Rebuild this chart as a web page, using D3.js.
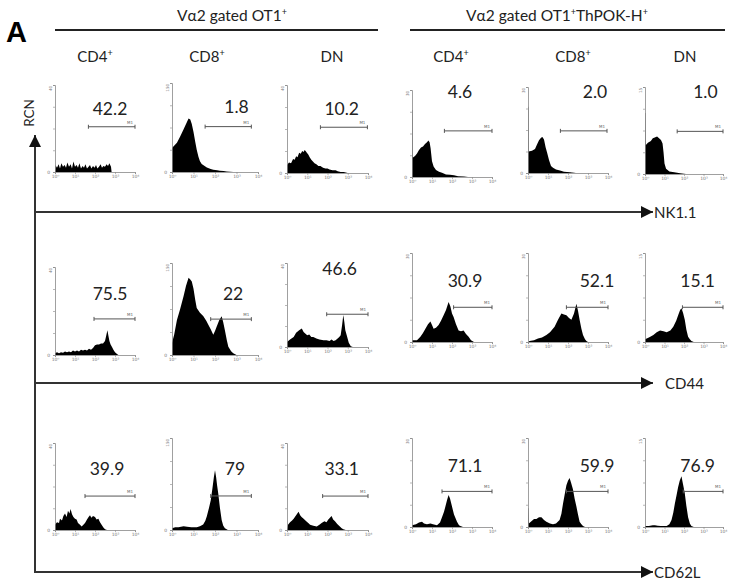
<!DOCTYPE html>
<html>
<head>
<meta charset="utf-8">
<script src="https://cdn.jsdelivr.net/npm/d3@7/dist/d3.min.js"></script>
<style>
  html, body { margin: 0; padding: 0; background: #fff; }
  svg { display: block; }
</style>
</head>
<body>
<svg id="canvas"></svg>
<script>
// ===== Data =====
const groups = ["Vα2 gated OT1", "Vα2 gated OT1"];
const subsets = ["CD4", "CD8", "DN", "CD4", "CD8", "DN"];
const markers = ["NK1.1", "CD44", "CD62L"];
const xTicks = [0, 1, 2, 3, 4];          // log decades, 10^0 .. 10^4
const yTopLabels = ["40", "150", "40", "30", "30", "15"];

// percent in M1 gate, as printed
const pctNK11 = ["42.2", "1.8", "10.2", "4.6", "2.0", "1.0"];
const pctCD44 = ["75.5", "22", "46.6", "30.9", "52.1", "15.1"];
const pctCD62L = ["39.9", "79", "33.1", "71.1", "59.9", "76.9"];

// M1 gate ranges [from, to] in decades
const gateNK11 = [[1.67, 4], [1.54, 3.69], [1.65, 3.97], [1.62, 4], [1.62, 3.95], [1.65, 4]];
const gateCD44 = [[1.95, 4], [1.8, 3.69], [1.96, 4], [2.08, 4], [1.92, 4], [1.92, 4]];
const gateCD62L = [[1.5, 4], [1.8, 3.69], [1.76, 4], [1.5, 4], [1.92, 4], [1.96, 4]];

// histograms: [decade, relative count %]
const histNK11 = [
  [[0,0],[0.02,8],[0.1,5],[0.18,9],[0.25,4],[0.32,10],[0.4,6],[0.48,8],[0.55,5],[0.62,11],[0.7,6],[0.78,9],[0.85,4],[0.92,12],[1.0,6],[1.08,8],[1.15,5],[1.22,10],[1.3,4],[1.38,7],[1.45,5],[1.52,9],[1.6,4],[1.68,6],[1.75,8],[1.82,4],[1.9,7],[1.98,5],[2.05,8],[2.12,4],[2.2,6],[2.28,9],[2.35,5],[2.42,7],[2.5,6],[2.58,9],[2.65,7],[2.72,10],[2.8,6],[2.83,0]],
  [[0,0],[0,27],[0.12,30],[0.23,33],[0.38,40],[0.54,48],[0.69,56],[0.77,60],[0.85,59],[0.92,54],[1.0,45],[1.08,34],[1.15,25],[1.23,17],[1.3,12],[1.38,9],[1.5,7],[1.62,5],[1.8,3.5],[1.92,2.5],[2.1,2],[2.23,1.5],[2.4,1],[2.54,0.7],[2.7,0.4],[2.85,0]],
  [[0,0],[0,9],[0.1,12],[0.2,11],[0.3,16],[0.38,15],[0.45,19],[0.52,18],[0.6,23],[0.68,22],[0.75,25],[0.82,24],[0.87,26],[0.92,25],[0.98,23],[1.05,21],[1.12,18],[1.2,15],[1.28,13],[1.36,11],[1.45,10],[1.55,8],[1.65,8],[1.78,6],[1.9,5],[2.0,5],[2.1,4],[2.25,3],[2.4,3],[2.5,2],[2.65,1],[2.8,1],[3.0,0]],
  [[0,0],[0,77],[0.02,77],[0.03,22],[0.15,24],[0.25,27],[0.35,31],[0.45,34],[0.55,35],[0.65,38],[0.75,40],[0.82,42],[0.88,40],[0.93,33],[1.0,18],[1.08,12],[1.2,8],[1.35,6],[1.5,5],[1.7,3],[1.9,2.5],[2.1,2],[2.3,1],[2.6,0.5],[2.8,0]],
  [[0,0],[0,77],[0.02,77],[0.03,25],[0.2,26],[0.35,28],[0.45,33],[0.55,38],[0.65,41],[0.72,42],[0.8,39],[0.88,30],[0.95,24],[1.05,15],[1.15,8],[1.25,6],[1.4,4],[1.6,3],[1.8,1.5],[2.1,0.8],[2.4,0]],
  [[0,0],[0,70],[0.02,70],[0.03,33],[0.15,36],[0.3,38],[0.4,41],[0.5,42],[0.62,43],[0.72,41],[0.82,39],[0.9,35],[0.95,25],[1.0,12],[1.08,6],[1.25,3],[1.5,2],[1.8,1],[2.1,0]]
];
const histCD44 = [
  [[0,0],[0,2],[0.1,3],[0.2,2],[0.3,3],[0.4,2.5],[0.5,4],[0.6,3],[0.7,4],[0.8,3],[0.9,5],[1.0,4],[1.1,5],[1.2,4],[1.3,6],[1.4,5],[1.5,6],[1.6,5],[1.7,7],[1.8,6],[1.9,8],[2.0,11],[2.1,12],[2.2,12],[2.3,13],[2.4,13],[2.5,16],[2.56,22],[2.62,28],[2.67,22],[2.72,16],[2.78,12],[2.85,9],[2.92,6],[3.0,3],[3.1,1],[3.17,0]],
  [[0,0],[0,13],[0.1,22],[0.23,38],[0.38,50],[0.54,64],[0.65,75],[0.77,84],[0.85,82],[0.92,80],[1.0,72],[1.08,60],[1.15,51],[1.3,46],[1.46,42],[1.6,37],[1.69,33],[1.8,28],[1.92,22],[2.0,26],[2.08,31],[2.2,38],[2.31,42],[2.38,36],[2.46,27],[2.55,16],[2.62,9],[2.75,4],[2.85,2],[3.0,0]],
  [[0,0],[0,6],[0.15,9],[0.33,12],[0.45,17],[0.6,20],[0.73,22],[0.82,18],[0.9,16],[1.0,14],[1.1,15],[1.2,12],[1.3,12],[1.45,10],[1.6,9],[1.8,8],[1.95,8],[2.1,7],[2.2,9],[2.3,7],[2.4,8],[2.5,10],[2.58,12],[2.65,14],[2.72,26],[2.78,38],[2.83,30],[2.88,20],[2.95,14],[3.05,5],[3.15,1],[3.25,0]],
  [[0,0],[0,2],[0.25,2],[0.42,6],[0.55,10],[0.67,15],[0.8,20],[0.92,23],[1.0,19],[1.08,15],[1.2,16],[1.33,19],[1.45,24],[1.58,30],[1.7,36],[1.83,45],[1.92,40],[2.0,32],[2.08,28],[2.2,20],[2.33,13],[2.45,12],[2.58,13],[2.7,9],[2.83,6],[2.95,2],[3.1,0]],
  [[0,0],[0.08,1],[0.3,2],[0.5,4],[0.7,5],[0.92,8],[1.1,11],[1.33,17],[1.5,25],[1.67,32],[1.8,31],[1.92,30],[2.05,27],[2.17,25],[2.3,32],[2.42,43],[2.5,35],[2.58,25],[2.67,15],[2.75,8],[2.85,3],[2.92,1],[3.0,0]],
  [[0,0],[0,3],[0.2,5],[0.43,8],[0.6,11],[0.77,13],[0.95,12],[1.11,11],[1.3,13],[1.45,17],[1.6,24],[1.7,30],[1.8,36],[1.87,38],[1.95,33],[2.04,25],[2.12,14],[2.21,6],[2.3,3],[2.38,1],[2.5,0]]
];
const histCD62L = [
  [[0,0],[0,6],[0.1,9],[0.2,8],[0.25,13],[0.35,11],[0.42,16],[0.5,19],[0.58,15],[0.65,22],[0.72,19],[0.78,24],[0.85,18],[0.92,15],[1.0,13],[1.08,12],[1.15,8],[1.25,6],[1.33,4],[1.42,6],[1.5,8],[1.6,12],[1.68,15],[1.75,17],[1.82,14],[1.9,16],[2.0,15],[2.08,12],[2.17,13],[2.25,9],[2.33,6],[2.42,3],[2.5,1],[2.6,0]],
  [[0,0],[0,2],[0.15,3],[0.3,3],[0.54,4],[0.7,3.5],[0.9,3],[1.15,3],[1.3,4],[1.45,6],[1.55,10],[1.62,15],[1.72,24],[1.8,32],[1.88,45],[1.95,58],[2.0,65],[2.05,58],[2.1,48],[2.15,40],[2.23,24],[2.31,11],[2.38,5],[2.46,2],[2.6,0]],
  [[0,0],[0.05,6],[0.15,9],[0.25,11],[0.33,13],[0.45,17],[0.57,21],[0.65,17],[0.72,15],[0.82,13],[0.95,10],[1.05,8],[1.14,6],[1.3,5],[1.47,4],[1.6,6],[1.71,8],[1.85,10],[1.95,9],[2.04,12],[2.12,14],[2.2,16],[2.28,12],[2.37,10],[2.48,7],[2.61,4],[2.7,2],[2.78,1],[2.9,0]],
  [[0,0],[0,2],[0.2,3],[0.35,5],[0.5,6],[0.6,4],[0.75,3],[0.92,4],[1.05,3],[1.25,2],[1.4,5],[1.5,11],[1.6,17],[1.67,23],[1.75,30],[1.83,36],[1.9,32],[2.0,23],[2.1,14],[2.25,6],[2.35,2],[2.42,1],[2.55,0]],
  [[0,0],[0,21],[0.02,21],[0.04,4],[0.2,7],[0.3,9],[0.42,9],[0.55,11],[0.67,11],[0.8,8],[0.92,6],[1.1,4],[1.25,3],[1.4,4],[1.58,8],[1.67,15],[1.75,26],[1.83,36],[1.92,47],[2.0,52],[2.08,55],[2.15,50],[2.25,42],[2.33,32],[2.42,23],[2.5,14],[2.58,6],[2.67,3],[2.75,1],[2.85,0]],
  [[0,0],[0,1],[0.2,1],[0.4,2],[0.51,2],[0.65,1.5],[0.8,1],[1.11,1],[1.25,3],[1.36,8],[1.45,16],[1.53,26],[1.62,36],[1.7,45],[1.78,52],[1.87,57],[1.95,48],[2.04,38],[2.12,24],[2.21,11],[2.3,4],[2.38,1],[2.5,0]]
];

const rows = [
  { marker: markers[0], hist: histNK11, pct: pctNK11, gate: gateNK11 },
  { marker: markers[1], hist: histCD44, pct: pctCD44, gate: gateCD44 },
  { marker: markers[2], hist: histCD62L, pct: pctCD62L, gate: gateCD62L }
];

// ===== Layout (pixels) =====
const W = 731, H = 588;
const colX = [55, 172, 287, 412, 528, 645];
const colW = [80, 86, 81, 80, 80, 78];
// [top, origin] of each panel's y axis
const frames = [
  [[85,172],[83,172],[85,173],[90,177],[87,173],[87,174]],
  [[267,355],[263,355],[263,347],[253,342],[253,342],[253,342]],
  [[443,530],[438,530],[443,530],[438,527],[438,527],[438,527]]
];
// gate bar height (% of axis) and label anchor [decade, %]
const gateY = [[52,51,52,53,49,49],[41,39,39,39,39,39],[39,37,39,40,40,40]];
const labelPos = [
  [[2.75,66],[3.0,66],[2.7,66],[2.4,91],[3.35,87],[3.1,87]],
  [[2.75,62],[2.84,60],[2.6,86],[2.65,62],[3.45,62],[2.7,62]],
  [[2.6,63],[2.93,60],[2.7,63],[2.65,62],[3.45,62],[2.7,62]]
];
const markerLineY = [212, 383, 572];
const axisX = 35, arrowTip = 653;

const svg = d3.select("#canvas").attr("width", W).attr("height", H);
const g = svg.append("g");
const font = "Lato, 'Open Sans', sans-serif";

// ===== Header =====
g.append("text").attr("x", 6).attr("y", 42)
  .attr("font-family", "'Liberation Sans', Arial, sans-serif")
  .attr("font-weight", "bold").attr("font-size", 29).text("A");

function supText(sel, base, sup, size) {
  sel.append("tspan").text(base);
  sel.append("tspan").attr("font-size", size * 0.6).attr("dy", -size * 0.38).text(sup);
}

const header = [
  { cx: 232, x1: 55, x2: 378 },
  { cx: 557, x1: 410, x2: 725 }
];
header.forEach((h, i) => {
  const t = g.append("text").attr("x", h.cx).attr("y", 21)
    .attr("text-anchor", "middle").attr("font-family", font).attr("font-size", 15.5)
    .attr("fill", "#222");
  t.append("tspan").text(groups[i]);
  t.append("tspan").attr("font-size", 9).attr("dy", -6).text("+");
  if (i === 1) {
    t.append("tspan").attr("font-size", 15.5).attr("dy", 6).text("ThPOK-H");
    t.append("tspan").attr("font-size", 9).attr("dy", -6).text("+");
  }
  g.append("line").attr("x1", h.x1).attr("x2", h.x2).attr("y1", 30).attr("y2", 30)
    .attr("stroke", "#222").attr("stroke-width", 2);
});

const colLabelX = [95, 207, 332, 451, 573, 685];
subsets.forEach((s, i) => {
  const t = g.append("text").attr("x", colLabelX[i]).attr("y", 62)
    .attr("text-anchor", "middle").attr("font-family", font).attr("font-size", 15)
    .attr("fill", "#222");
  if (s === "DN") t.text(s);
  else supText(t, s, "+", 15);
});

// ===== Big axes with arrows =====
svg.append("defs").append("marker")
  .attr("id", "arrow").attr("viewBox", "0 0 10 10")
  .attr("refX", 10).attr("refY", 5)
  .attr("markerWidth", 6).attr("markerHeight", 6)
  .attr("markerUnits", "strokeWidth").attr("orient", "auto")
  .append("path").attr("d", "M0,0 L10,5 L0,10 Z").attr("fill", "#111");

g.append("line").attr("x1", axisX).attr("x2", axisX)
  .attr("y1", markerLineY[2]).attr("y2", 135)
  .attr("stroke", "#333").attr("stroke-width", 2).attr("marker-end", "url(#arrow)");

g.append("text").attr("transform", `translate(33.5,113) rotate(-90)`)
  .attr("text-anchor", "middle").attr("font-family", font).attr("font-size", 13.5)
  .attr("fill", "#222").text("RCN");

markerLineY.forEach((y, i) => {
  g.append("line").attr("x1", axisX - 1).attr("x2", arrowTip).attr("y1", y).attr("y2", y)
    .attr("stroke", "#333").attr("stroke-width", 2).attr("marker-end", "url(#arrow)");
  g.append("text").attr("x", arrowTip + (i === 1 ? 12 : 1)).attr("y", y + 6)
    .attr("font-family", font).attr("font-size", 15).attr("fill", "#222")
    .text(markers[i]);
});

// ===== Histogram panels =====
const supDigits = ["⁰", "¹", "²", "³", "⁴"];

rows.forEach((row, r) => {
  row.hist.forEach((data, c) => {
    const [top, origin] = frames[r][c];
    const x = d3.scaleLinear().domain([0, 4]).range([colX[c], colX[c] + colW[c]]);
    const y = d3.scaleLinear().domain([0, 100]).range([origin, top]);
    const p = g.append("g").attr("class", "panel");

    // filled histogram
    const area = d3.area().x(d => x(d[0])).y0(y(0)).y1(d => y(d[1])).curve(d3.curveLinear);
    p.append("path").datum(data).attr("d", area).attr("fill", "#000");

    // x axis
    const xAxis = d3.axisBottom(x).tickValues(xTicks).tickSize(2).tickPadding(1)
      .tickFormat(d => "10" + supDigits[d]);
    const xa = p.append("g").attr("transform", `translate(0,${y(0)})`).call(xAxis);
    xa.select(".domain").attr("stroke", "#888").attr("stroke-width", 0.8);
    xa.selectAll(".tick line").attr("stroke", "#888").attr("stroke-width", 0.6);
    xa.selectAll(".tick text").attr("font-size", 4.5).attr("fill", "#777")
      .attr("font-family", "'DejaVu Sans', sans-serif");

    // y axis
    const yAxis = d3.axisLeft(y).tickValues([0, 25, 50, 75, 100]).tickSize(2)
      .tickFormat(d => d === 0 ? "0" : "");
    const ya = p.append("g").attr("transform", `translate(${x(0)},0)`).call(yAxis);
    ya.select(".domain").attr("stroke", "#888").attr("stroke-width", 0.8);
    ya.selectAll(".tick line").attr("stroke", "#888").attr("stroke-width", 0.6);
    ya.selectAll(".tick text").attr("font-size", 4.5).attr("fill", "#777")
      .attr("font-family", "'DejaVu Sans', sans-serif");
    p.append("text").attr("transform", `translate(${x(0) - 3},${y(100) + 1}) rotate(-90)`)
      .attr("text-anchor", "end").attr("font-size", 4).attr("fill", "#777")
      .attr("font-family", "'DejaVu Sans', sans-serif").text(yTopLabels[c]);

    // M1 gate
    const [g0, g1] = row.gate[c];
    const gy = y(gateY[r][c]);
    p.append("line").attr("x1", x(g0)).attr("x2", x(g1)).attr("y1", gy).attr("y2", gy)
      .attr("stroke", "#555").attr("stroke-width", 1);
    [g0, g1].forEach(v => {
      p.append("line").attr("x1", x(v)).attr("x2", x(v)).attr("y1", gy - 2).attr("y2", gy + 2)
        .attr("stroke", "#555").attr("stroke-width", 1);
    });
    p.append("text").attr("x", x(g1) - 5).attr("y", gy - 3)
      .attr("text-anchor", "middle").attr("font-size", 4).attr("fill", "#666")
      .attr("font-family", "'DejaVu Sans', sans-serif").text("M1");

    // percentage
    const [lx, ly] = labelPos[r][c];
    p.append("text").attr("x", x(lx)).attr("y", y(ly))
      .attr("text-anchor", "middle").attr("font-family", font).attr("font-size", 17.5)
      .attr("fill", "#222").text(row.pct[c]);
  });
});
</script>
</body>
</html>
